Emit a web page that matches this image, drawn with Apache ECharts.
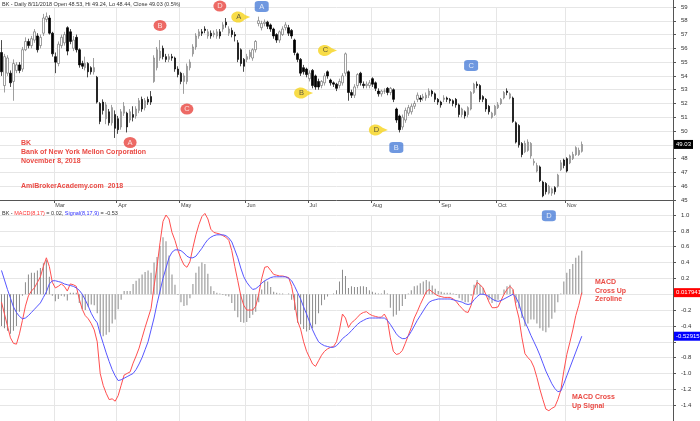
<!DOCTYPE html>
<html><head><meta charset="utf-8">
<script src="https://cdn.jsdelivr.net/npm/echarts@6/dist/echarts.min.js"></script>
<style>html,body{margin:0;padding:0;background:#fff}#c{width:700px;height:421px}</style>
</head><body><div id="c"></div>
<script>
// ---- price data (daily bars, Feb 2 – Nov 8 2018) ----
const opens = [
55.7,53.3,54.2,54.2,53.6,54.4,54.8,54.5,55.9,56.5,
56.2,56.6,56.9,56.2,57.1,58.1,58.2,57.1,55.4,54.9,
56.2,56.4,57.5,57.2,56.0,56.8,55.9,54.9,54.6,54.9,
54.6,54.3,53.9,52.0,52.1,50.9,51.4,50.6,51.2,50.9,
50.3,51.3,51.3,50.8,51.2,51.1,51.5,52.3,51.7,52.3,
52.5,53.6,54.6,55.3,56.0,55.4,55.2,55.4,55.3,54.5,
54.2,53.6,53.6,54.6,55.6,56.1,56.9,57.2,57.4,56.9,
57.1,57.0,56.9,57.2,57.4,57.9,57.1,57.3,57.0,56.4,
55.9,55.2,55.2,55.4,55.3,55.9,57.8,57.5,57.8,57.9,
57.7,57.4,57.0,56.6,57.0,57.5,57.5,57.3,56.6,55.6,
55.2,54.6,54.5,53.8,54.4,54.0,53.6,53.3,53.5,54.3,
53.7,53.5,53.4,53.3,53.5,54.2,54.3,52.8,52.6,53.3,
54.2,53.4,53.3,53.3,53.8,53.5,52.9,52.7,52.9,53.1,
52.8,53.0,51.6,51.1,50.3,50.8,51.3,51.4,51.8,52.3,
52.4,52.4,52.4,52.6,52.9,52.7,52.3,52.1,52.3,52.4,
52.3,52.2,52.3,51.9,51.2,51.4,51.2,51.6,52.8,53.4,
53.3,52.5,52.3,51.8,51.0,51.2,51.7,52.0,52.4,52.9,
52.4,52.4,50.6,50.4,49.1,48.5,48.6,48.2,47.7,47.1,
47.4,46.3,46.2,45.5,45.5,45.9,46.0,47.2,47.9,48.0,
47.7,48.0,48.3,48.3,48.53];
const closes = [
54.3,55.4,55.3,53.5,54.9,54.8,54.4,55.9,56.5,56.2,
56.7,57.2,55.9,56.8,58.2,58.3,57.1,55.6,55.0,56.3,
56.8,57.0,55.8,56.5,56.6,55.9,54.8,54.7,54.9,54.3,
54.3,54.6,52.1,50.7,51.5,51.9,50.6,51.7,50.2,50.1,
51.4,51.8,50.3,51.4,51.0,51.6,52.2,51.6,52.2,52.1,
52.1,55.3,55.9,55.8,55.4,55.2,55.4,55.3,54.5,54.1,
53.6,54.0,54.7,55.0,56.1,56.9,57.2,57.1,57.3,57.2,
56.9,57.1,57.2,56.9,57.7,57.7,57.4,57.0,56.9,55.2,
54.9,54.7,55.4,55.7,55.9,56.5,58.0,57.8,57.9,57.6,
57.4,56.9,56.6,57.2,57.4,57.7,57.1,56.9,55.7,55.2,
54.2,54.3,54.1,54.2,53.3,53.2,53.2,53.6,54.0,54.0,
53.5,53.4,53.1,53.6,54.0,55.6,52.8,52.6,53.2,54.1,
53.5,53.3,53.4,53.5,53.4,53.1,52.7,52.9,52.9,52.8,
53.1,52.3,50.8,50.1,51.0,51.5,51.7,51.8,52.0,52.6,
52.3,52.5,52.6,52.9,52.7,52.3,52.1,51.9,52.4,52.3,
52.2,52.0,51.9,51.2,51.6,51.1,51.7,52.8,53.4,53.3,
52.3,52.3,51.6,51.4,51.3,51.8,51.9,52.3,52.8,52.8,
52.7,50.7,49.2,49.0,48.3,49.1,49.2,49.1,47.8,47.5,
46.4,45.3,45.6,46.0,45.8,45.6,46.8,47.7,47.5,47.1,
48.2,48.3,48.8,48.6,49.03];
const lows = [
54.0,52.8,54.0,53.2,52.2,54.2,54.2,54.3,55.8,56.0,
56.0,56.4,55.7,56.0,56.9,57.9,57.0,55.4,54.2,54.7,
56.0,56.2,55.5,56.3,55.8,55.7,54.6,54.5,54.4,53.9,
54.1,54.1,52.0,50.5,51.2,50.5,50.4,50.4,49.5,49.8,
50.1,51.1,49.9,50.6,50.7,50.9,51.3,51.4,51.5,51.9,
51.9,53.5,54.4,55.1,55.2,55.0,55.0,55.1,54.3,53.9,
53.4,52.7,53.4,54.4,55.4,55.9,56.7,56.9,57.1,56.7,
56.7,56.8,56.7,56.7,57.2,57.5,56.9,56.8,56.5,55.0,
54.7,54.3,55.0,55.2,55.1,55.7,57.6,57.3,57.6,57.4,
57.2,56.7,56.4,56.4,56.9,57.3,56.9,56.7,55.5,55.0,
54.0,54.1,53.9,53.6,53.1,53.0,53.0,53.1,53.3,53.8,
53.3,53.2,52.9,53.1,53.3,54.0,52.2,52.4,52.4,53.1,
53.3,53.1,53.1,53.1,53.2,52.9,52.5,52.5,52.7,52.6,
52.6,52.1,50.6,49.9,50.1,50.6,51.1,51.2,51.6,52.1,
52.1,52.2,52.2,52.4,52.5,52.1,51.9,51.7,52.1,52.1,
52.0,51.8,51.7,51.0,51.0,50.9,51.0,51.5,52.7,53.1,
52.1,52.1,51.4,51.2,50.9,51.1,51.6,51.9,52.3,52.6,
52.3,50.6,49.1,48.8,48.1,48.4,48.5,48.0,47.5,47.0,
46.3,45.2,45.4,45.4,45.3,45.4,45.9,47.1,47.3,47.0,
47.6,47.9,48.2,48.2,48.44];
const highs = [
56.6,55.6,55.5,54.4,55.2,55.0,55.0,56.1,56.8,56.7,
56.9,57.4,57.1,57.0,58.5,58.6,58.4,57.2,55.7,56.5,
57.0,57.2,57.6,57.4,56.9,57.0,56.0,55.1,55.4,55.0,
54.7,55.3,54.0,52.1,52.3,52.1,51.6,51.9,51.5,51.1,
51.6,52.1,51.4,51.6,51.8,51.8,52.4,52.5,52.4,52.5,
52.9,55.5,56.1,56.6,56.2,55.6,55.6,55.6,55.4,54.7,
54.3,54.2,54.9,55.2,56.3,57.1,57.4,57.4,57.6,57.4,
57.3,57.3,57.4,57.4,57.9,58.2,57.6,57.5,57.2,56.6,
56.0,55.3,55.6,55.9,56.0,56.6,58.3,58.0,58.1,58.0,
57.8,57.5,57.1,57.3,57.6,57.9,57.7,57.4,56.7,55.7,
55.3,54.8,54.6,54.4,54.5,54.1,53.8,53.7,54.2,54.4,
53.8,53.6,53.5,53.8,54.2,55.7,54.4,53.0,53.4,54.2,
54.3,53.6,53.6,53.7,53.9,53.6,53.1,53.0,53.1,53.2,
53.2,53.1,51.7,51.2,51.2,51.7,51.9,52.0,52.2,52.8,
52.6,52.7,52.8,53.1,53.0,52.8,52.4,52.2,52.6,52.5,
52.4,52.3,52.4,52.0,51.7,51.5,51.8,52.9,53.5,53.6,
53.4,52.6,52.4,51.9,51.4,51.9,52.1,52.4,52.9,53.1,
52.8,52.5,50.7,50.5,49.2,49.3,49.4,49.2,48.0,47.7,
47.5,46.4,46.3,46.1,45.9,46.0,46.9,47.9,48.0,48.1,
48.3,48.5,48.9,48.8,49.24];

// ---- MACD(8,17), Signal(9) and histogram ----
const macdLine = [
-0.10,-0.25,-0.40,-0.55,-0.62,-0.63,-0.50,-0.33,-0.15,-0.02,
0.04,0.08,0.15,0.22,0.35,0.46,0.35,0.15,0.08,0.10,
0.13,0.10,0.04,0.13,0.12,0.10,-0.06,-0.19,-0.27,-0.31,
-0.37,-0.45,-0.60,-1.00,-1.15,-1.25,-1.33,-1.32,-1.35,-1.28,
-1.15,-1.02,-1.00,-0.98,-0.87,-0.78,-0.68,-0.55,-0.42,-0.30,
-0.18,0.10,0.35,0.65,0.92,1.00,0.95,0.78,0.68,0.55,
0.45,0.37,0.34,0.41,0.59,0.75,0.88,0.98,1.02,0.95,
0.82,0.78,0.77,0.76,0.74,0.72,0.68,0.55,0.35,0.17,
-0.02,-0.14,-0.20,-0.20,-0.20,-0.15,0.00,0.20,0.34,0.35,
0.30,0.25,0.24,0.23,0.23,0.22,0.21,0.10,-0.10,-0.34,
-0.44,-0.60,-0.72,-0.80,-0.88,-0.91,-0.84,-0.77,-0.72,-0.69,
-0.67,-0.66,-0.60,-0.45,-0.25,-0.30,-0.42,-0.36,-0.33,-0.29,
-0.25,-0.23,-0.22,-0.25,-0.27,-0.28,-0.29,-0.29,-0.25,-0.32,
-0.55,-0.72,-0.76,-0.75,-0.71,-0.62,-0.52,-0.42,-0.30,-0.22,
-0.13,-0.05,0.03,0.06,0.03,0.00,-0.02,-0.03,-0.04,-0.04,
-0.04,-0.06,-0.09,-0.14,-0.18,-0.22,-0.23,-0.14,0.05,0.15,
0.12,0.08,-0.01,-0.10,-0.17,-0.17,-0.16,-0.08,0.00,0.06,
0.10,0.06,-0.15,-0.30,-0.55,-0.75,-0.80,-0.84,-0.92,-1.05,
-1.20,-1.33,-1.45,-1.47,-1.44,-1.42,-1.33,-1.21,-0.97,-0.76,
-0.61,-0.45,-0.27,-0.14,0.02];
const signalLine = [
0.30,0.18,0.06,-0.05,-0.16,-0.23,-0.28,-0.31,-0.30,-0.27,
-0.23,-0.19,-0.15,-0.11,-0.04,0.03,0.13,0.17,0.17,0.16,
0.15,0.13,0.12,0.11,0.10,0.08,0.05,0.00,-0.07,-0.15,
-0.24,-0.31,-0.36,-0.50,-0.62,-0.74,-0.85,-0.95,-1.03,-1.09,
-1.08,-1.06,-1.04,-1.02,-1.00,-0.95,-0.88,-0.80,-0.70,-0.60,
-0.45,-0.30,-0.12,0.04,0.20,0.33,0.46,0.53,0.56,0.56,
0.55,0.52,0.48,0.46,0.46,0.48,0.53,0.58,0.64,0.69,
0.72,0.74,0.75,0.75,0.75,0.74,0.71,0.66,0.56,0.46,
0.33,0.22,0.15,0.10,0.06,0.07,0.10,0.14,0.17,0.19,
0.21,0.22,0.22,0.22,0.22,0.22,0.20,0.17,0.10,0.02,
-0.06,-0.16,-0.25,-0.35,-0.45,-0.53,-0.60,-0.63,-0.65,-0.66,
-0.67,-0.67,-0.65,-0.61,-0.56,-0.53,-0.50,-0.46,-0.42,-0.38,
-0.35,-0.33,-0.31,-0.30,-0.30,-0.30,-0.30,-0.30,-0.30,-0.33,
-0.38,-0.44,-0.50,-0.54,-0.56,-0.56,-0.53,-0.47,-0.40,-0.33,
-0.27,-0.21,-0.15,-0.10,-0.08,-0.07,-0.06,-0.06,-0.06,-0.06,
-0.06,-0.07,-0.08,-0.09,-0.10,-0.12,-0.13,-0.12,-0.07,-0.03,
0.00,0.00,-0.01,-0.03,-0.06,-0.08,-0.09,-0.08,-0.06,-0.04,
-0.02,0.00,-0.04,-0.12,-0.25,-0.35,-0.43,-0.52,-0.60,-0.68,
-0.77,-0.87,-0.97,-1.05,-1.13,-1.19,-1.23,-1.22,-1.13,-1.03,
-0.93,-0.83,-0.73,-0.63,-0.53];
const histogram = [
-0.40,-0.43,-0.46,-0.50,-0.46,-0.40,-0.22,-0.02,0.15,0.25,
0.27,0.27,0.30,0.33,0.39,0.43,0.22,-0.02,-0.09,-0.06,
-0.02,-0.03,-0.08,0.02,0.02,0.02,-0.11,-0.19,-0.20,-0.16,
-0.13,-0.14,-0.24,-0.50,-0.53,-0.51,-0.48,-0.37,-0.32,-0.19,
-0.07,0.04,0.04,0.04,0.13,0.17,0.20,0.25,0.28,0.30,
0.27,0.40,0.47,0.61,0.72,0.67,0.49,0.25,0.12,-0.01,
-0.10,-0.15,-0.14,-0.05,0.13,0.27,0.35,0.40,0.38,0.26,
0.10,0.04,0.02,0.01,-0.01,-0.02,-0.03,-0.11,-0.21,-0.29,
-0.35,-0.36,-0.35,-0.30,-0.26,-0.22,-0.10,0.06,0.17,0.16,
0.09,0.03,0.02,0.01,0.01,0.00,0.01,-0.07,-0.20,-0.36,
-0.38,-0.44,-0.47,-0.45,-0.43,-0.38,-0.24,-0.14,-0.07,-0.03,
0.00,0.01,0.05,0.16,0.31,0.23,0.08,0.10,0.09,0.09,
0.10,0.10,0.09,0.05,0.03,0.02,0.01,0.01,0.05,0.01,
-0.17,-0.28,-0.26,-0.21,-0.15,-0.06,0.01,0.05,0.10,0.11,
0.14,0.16,0.18,0.16,0.11,0.07,0.04,0.03,0.02,0.02,
0.02,0.01,-0.01,-0.05,-0.08,-0.10,-0.10,-0.02,0.12,0.18,
0.12,0.08,0.00,-0.07,-0.11,-0.09,-0.07,0.00,0.06,0.10,
0.12,0.06,-0.11,-0.18,-0.30,-0.40,-0.37,-0.32,-0.32,-0.37,
-0.43,-0.46,-0.48,-0.42,-0.31,-0.23,-0.10,0.01,0.16,0.27,
0.32,0.38,0.46,0.49,0.55];

const lastClose = 49.03;
const macdLast = 0.017941;
const signalLast = -0.52915;

// ---- month ticks (bar index of first trading day) ----
const monthStarts = [18, 39, 60, 82, 103, 124, 147, 166, 189];
const monthLabels = ['Mar', 'Apr', 'May', 'Jun', 'Jul', 'Aug', 'Sep', 'Oct', 'Nov'];
const totalSlots = 225; // bars plus empty space on the right

// ---- pattern tags (bar index, price) ----
const redTagText = ['B', 'D', 'C', 'A'];
const redTagIdx = [53, 73, 62, 43];
const redTagPrice = [57.66, 59.07, 51.60, 49.17];
const yellowTagText = ['A', 'C', 'B', 'D'];
const yellowTagIdx = [80, 109, 101, 126];
const yellowTagPrice = [58.27, 55.85, 52.76, 50.08];
const blueTagText = ['A', 'C', 'B'];
const blueTagIdx = [87, 157, 132];
const blueTagPrice = [59.04, 54.76, 48.81];
const blueMacdTagText = ['D'];
const blueMacdTagIdx = [183];
const blueMacdTagValue = [0.99];

// ---------------------------------------------------------------
const cats = Array.from({length: totalSlots}, (_, i) => String(i));
const ohlc = opens.map((o, i) => [o, closes[i], lows[i], highs[i]]);
const isMonth = (idx) => monthStarts.indexOf(idx) >= 0;
const FONT = '"Liberation Sans", Arial, sans-serif';
const GRID = '#e6e6e6';
const AXIS = '#555';
const RED = '#ea4a44';

const tagData = (txt, idx, val) => txt.map((t, k) => ({name: t, value: [idx[k], val[k]]}));
const tagLabel = (color, off) => ({show: true, position: 'inside', formatter: '{b}', color: color,
  fontSize: 7.5, fontFamily: FONT, offset: off || [0, 0]});
const valueTag = (text, bg) => ({silent: true, symbol: ['none', 'none'],
  lineStyle: {color: 'rgba(0,0,0,0)', width: 0},
  label: {show: true, position: 'end', distance: 1, formatter: text,
    backgroundColor: bg, color: '#fff', fontSize: 6, padding: [2, 2, 1, 2], fontFamily: FONT}});

const chart = echarts.init(document.getElementById('c'), null, {renderer: 'canvas'});
const option = {
  animation: false,
  backgroundColor: '#fff',
  grid: [
    {left: 0, right: 27, top: 7, height: 193},
    {left: 0, right: 27, top: 215, height: 208}
  ],
  xAxis: [
    {type: 'category', gridIndex: 0, data: cats, boundaryGap: true,
      axisLine: {show: true, lineStyle: {color: AXIS}},
      axisTick: {show: true, interval: (i) => isMonth(i), length: 3, lineStyle: {color: AXIS}},
      axisLabel: {show: true, interval: (i) => isMonth(i),
        formatter: (v, i) => monthLabels[monthStarts.indexOf(i)] || '',
        align: 'left', fontSize: 5.5, color: '#444', margin: 2, fontFamily: FONT},
      splitLine: {show: true, interval: (i) => isMonth(i), lineStyle: {color: GRID, width: 1}}},
    {type: 'category', gridIndex: 1, data: cats, boundaryGap: true,
      axisLine: {show: false}, axisTick: {show: false}, axisLabel: {show: false},
      splitLine: {show: true, interval: (i) => isMonth(i), lineStyle: {color: GRID, width: 1}}}
  ],
  yAxis: [
    {type: 'value', gridIndex: 0, position: 'right', min: 45, max: 59, interval: 1,
      axisLine: {show: true, lineStyle: {color: AXIS}},
      axisTick: {show: true, length: 3, lineStyle: {color: AXIS}},
      axisLabel: {fontSize: 6, color: '#333', margin: 8, fontFamily: FONT},
      splitLine: {show: true, lineStyle: {color: GRID}}},
    {type: 'value', gridIndex: 1, position: 'right', min: -1.6, max: 1.0, interval: 0.2,
      axisLine: {show: true, lineStyle: {color: AXIS}},
      axisTick: {show: true, length: 3, lineStyle: {color: AXIS}},
      axisLabel: {fontSize: 6, color: '#333', margin: 8, fontFamily: FONT,
        formatter: (v) => (Math.abs(v) < 1e-6 || Math.abs(v + 0.6) < 1e-6 || v < -1.5) ? '' : v.toFixed(1)},
      splitLine: {show: true, lineStyle: {color: GRID}}}
  ],
  series: [
    {type: 'candlestick', xAxisIndex: 0, yAxisIndex: 0, data: ohlc, barWidth: 2,
      itemStyle: {color: '#fff', color0: '#000', borderColor: '#777', borderColor0: '#000', borderWidth: 0.7},
      markLine: Object.assign(valueTag(String(lastClose), '#000'), {data: [{yAxis: lastClose}]})},
    {type: 'bar', xAxisIndex: 1, yAxisIndex: 1, data: histogram, barWidth: 1,
      itemStyle: {color: '#8a8a8a'}},
    {type: 'line', xAxisIndex: 1, yAxisIndex: 1, data: macdLine, showSymbol: false, clip: false,
      lineStyle: {color: '#ff4f4f', width: 1},
      markLine: Object.assign(valueTag(String(macdLast), '#f00'), {data: [{yAxis: macdLast}]})},
    {type: 'line', xAxisIndex: 1, yAxisIndex: 1, data: signalLine, showSymbol: false, clip: false,
      lineStyle: {color: '#5656ff', width: 1},
      markLine: Object.assign(valueTag(String(signalLast), '#00f'), {data: [{yAxis: signalLast}]})},
    {type: 'scatter', xAxisIndex: 0, yAxisIndex: 0, clip: false, z: 5,
      data: tagData(redTagText, redTagIdx, redTagPrice),
      symbol: 'circle', symbolSize: [13, 11], itemStyle: {color: '#e8453f'},
      label: tagLabel('#fff')},
    {type: 'scatter', xAxisIndex: 0, yAxisIndex: 0, clip: false, z: 5,
      data: tagData(yellowTagText, yellowTagIdx, yellowTagPrice),
      symbol: 'path://M7,0 C3.1,0 0,2.7 0,6 C0,9.3 3.1,12 7,12 C10,12 12,10.6 14.5,8.3 L20,6 L14.5,3.7 C12,1.4 10,0 7,0 Z',
      symbolSize: [19, 11], itemStyle: {color: '#f6d31a'},
      label: tagLabel('#3a3a3a', [-2, 0])},
    {type: 'scatter', xAxisIndex: 0, yAxisIndex: 0, clip: false, z: 5,
      data: tagData(blueTagText, blueTagIdx, blueTagPrice),
      symbol: 'roundRect', symbolSize: [14, 11], itemStyle: {color: '#4b7ed8'},
      label: tagLabel('#fff')},
    {type: 'scatter', xAxisIndex: 1, yAxisIndex: 1, clip: false, z: 5,
      data: tagData(blueMacdTagText, blueMacdTagIdx, blueMacdTagValue),
      symbol: 'roundRect', symbolSize: [14, 11], itemStyle: {color: '#4b7ed8'},
      label: tagLabel('#fff')}
  ],
  graphic: [
    {type: 'line', shape: {x1: 673.5, y1: 0, x2: 673.5, y2: 421}, style: {stroke: AXIS, lineWidth: 1}, z: 1},
    {type: 'text', left: 2, top: 1, z: 10,
      style: {text: 'BK - Daily 8/11/2018 Open 48.53, Hi 49.24, Lo 48.44, Close 49.03 (0.5%)',
        fill: '#333', font: '5.5px ' + FONT}},
    {type: 'text', left: 2, top: 210, z: 10,
      style: {text: '{k|BK - }{r|MACD(8,17)}{k| = 0.02, }{b|Signal(8,17,9)}{k| = -0.53}',
        font: '5.5px ' + FONT,
        rich: {k: {fill: '#333', fontSize: 5.5, fontFamily: FONT},
               r: {fill: '#ff3030', fontSize: 5.5, fontFamily: FONT},
               b: {fill: '#3030ff', fontSize: 5.5, fontFamily: FONT}}}},
    {type: 'text', left: 21, top: 139, z: 10,
      style: {text: 'BK\nBank of New York Mellon Corporation\nNovember 8, 2018',
        fill: RED, font: 'bold 7px ' + FONT, lineHeight: 9}},
    {type: 'text', left: 21, top: 183, z: 10,
      style: {text: 'AmiBrokerAcademy.com  2018', fill: RED, font: 'bold 7px ' + FONT}},
    {type: 'text', left: 595, top: 278, z: 10,
      style: {text: 'MACD\nCross Up\nZeroline', fill: RED, font: 'bold 7px ' + FONT, lineHeight: 8.5}},
    {type: 'text', left: 572, top: 393, z: 10,
      style: {text: 'MACD Cross\nUp Signal', fill: RED, font: 'bold 7px ' + FONT, lineHeight: 9}}
  ]
};
chart.setOption(option);
</script>
</body></html>
